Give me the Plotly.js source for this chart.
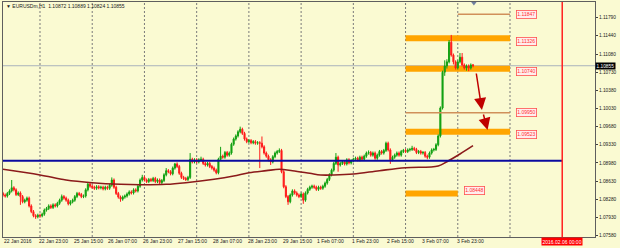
<!DOCTYPE html>
<html><head><meta charset="utf-8">
<script src="https://cdn.plot.ly/plotly-3.0.1.min.js"></script>
<style>html,body{margin:0;padding:0;background:#FAFAD2;}#chart{width:620px;height:248px;}</style>
</head><body><div id="chart"></div>
<script>
const openP = [
1.0839,1.0836,1.0834,1.0839,1.0844,1.0850,1.0846,1.0837,1.0840,1.0833,
1.0823,1.0826,1.0830,1.0815,1.0804,1.0796,1.0794,1.0797,1.0796,1.0799,
1.0807,1.0810,1.0815,1.0812,1.0817,1.0815,1.0820,1.0826,1.0833,1.0830,
1.0826,1.0819,1.0823,1.0826,1.0833,1.0839,1.0837,1.0833,1.0834,1.0846,
1.0857,1.0853,1.0851,1.0849,1.0852,1.0850,1.0851,1.0848,1.0851,1.0849,
1.0855,1.0865,1.0851,1.0839,1.0832,1.0828,1.0832,1.0834,1.0838,1.0842,
1.0840,1.0846,1.0844,1.0853,1.0865,1.0870,1.0865,1.0862,1.0866,1.0864,
1.0868,1.0862,1.0865,1.0860,1.0864,1.0875,1.0883,1.0881,1.0877,1.0888,
1.0896,1.0891,1.0878,1.0870,1.0868,1.0866,1.0870,1.0905,1.0900,1.0904,
1.0900,1.0904,1.0905,1.0897,1.0894,1.0897,1.0891,1.0888,1.0884,1.0879,
1.0905,1.0911,1.0909,1.0918,1.0913,1.0917,1.0934,1.0944,1.0950,1.0958,
1.0963,1.0955,1.0944,1.0939,1.0941,1.0937,1.0939,1.0936,1.0937,1.0936,
1.0929,1.0917,1.0911,1.0904,1.0900,1.0910,1.0917,1.0920,1.0922,1.0881,
1.0852,1.0833,1.0823,1.0836,1.0844,1.0840,1.0836,1.0833,1.0838,1.0826,
1.0840,1.0847,1.0851,1.0853,1.0851,1.0847,1.0851,1.0849,1.0853,1.0859,
1.0866,1.0875,1.0884,1.0897,1.0909,1.0894,1.0897,1.0900,1.0896,1.0904,
1.0898,1.0902,1.0905,1.0907,1.0904,1.0909,1.0905,1.0911,1.0917,1.0918,
1.0913,1.0917,1.0907,1.0913,1.0920,1.0917,1.0922,1.0936,1.0923,1.0904,
1.0909,1.0913,1.0917,1.0913,1.0920,1.0922,1.0920,1.0923,1.0924,1.0926,
1.0924,1.0918,1.0920,1.0917,1.0918,1.0911,1.0909,1.0917,1.0923,1.0924,
1.0933,1.0950,1.1004,1.1073,1.1085,1.1093,1.1131,1.1106,1.1093,1.1081,
1.1093,1.1102,1.1087,1.1081,1.1085,1.1081,1.10872];
const highP = [
1.0842,1.0839,1.0842,1.0847,1.0865,1.0853,1.0849,1.0843,1.0843,1.0836,
1.0829,1.0833,1.0833,1.0818,1.0807,1.0799,1.0800,1.0800,1.0802,1.0810,
1.0813,1.0818,1.0818,1.0820,1.0820,1.0823,1.0829,1.0837,1.0836,1.0833,
1.0829,1.0826,1.0829,1.0836,1.0842,1.0842,1.0840,1.0837,1.0849,1.0860,
1.0860,1.0856,1.0854,1.0855,1.0855,1.0854,1.0854,1.0854,1.0854,1.0858,
1.0870,1.0868,1.0854,1.0842,1.0835,1.0835,1.0837,1.0841,1.0845,1.0845,
1.0849,1.0849,1.0856,1.0868,1.0875,1.0873,1.0868,1.0869,1.0869,1.0871,
1.0871,1.0868,1.0868,1.0867,1.0878,1.0888,1.0886,1.0884,1.0891,1.0898,
1.0899,1.0894,1.0881,1.0873,1.0871,1.0873,1.0917,1.0908,1.0907,1.0907,
1.0907,1.0910,1.0908,1.0900,1.0900,1.0900,1.0894,1.0891,1.0887,1.0908,
1.0929,1.0914,1.0921,1.0921,1.0920,1.0937,1.0947,1.0953,1.0961,1.0968,
1.0966,1.0958,1.0947,1.0944,1.0944,1.0942,1.0942,1.0940,1.0940,1.0949,
1.0932,1.0920,1.0914,1.0907,1.0913,1.0920,1.0923,1.0926,1.0925,1.0884,
1.0855,1.0836,1.0839,1.0847,1.0847,1.0843,1.0839,1.0841,1.0841,1.0843,
1.0850,1.0854,1.0856,1.0856,1.0854,1.0854,1.0854,1.0856,1.0862,1.0869,
1.0878,1.0887,1.0900,1.0917,1.0912,1.0900,1.0903,1.0903,1.0907,1.0907,
1.0905,1.0908,1.0910,1.0910,1.0912,1.0912,1.0914,1.0920,1.0922,1.0921,
1.0920,1.0920,1.0916,1.0923,1.0923,1.0925,1.0939,1.0939,1.0926,1.0912,
1.0916,1.0920,1.0920,1.0923,1.0925,1.0925,1.0926,1.0927,1.0931,1.0929,
1.0927,1.0923,1.0923,1.0921,1.0921,1.0914,1.0920,1.0926,1.0927,1.0936,
1.0953,1.1007,1.1076,1.1096,1.1098,1.1135,1.1145,1.1109,1.1096,1.1096,
1.1110,1.1110,1.1090,1.1088,1.1088,1.1090,1.10889];
const lowP = [
1.0833,1.0831,1.0831,1.0836,1.0841,1.0843,1.0834,1.0834,1.0817,1.0820,
1.0820,1.0823,1.0812,1.0801,1.0793,1.0790,1.0791,1.0792,1.0793,1.0796,
1.0804,1.0807,1.0809,1.0809,1.0812,1.0812,1.0817,1.0823,1.0827,1.0823,
1.0816,1.0816,1.0820,1.0823,1.0830,1.0834,1.0830,1.0830,1.0831,1.0843,
1.0850,1.0848,1.0846,1.0846,1.0847,1.0847,1.0845,1.0845,1.0846,1.0846,
1.0852,1.0848,1.0836,1.0829,1.0823,1.0825,1.0829,1.0831,1.0835,1.0837,
1.0837,1.0841,1.0841,1.0850,1.0862,1.0862,1.0859,1.0859,1.0861,1.0861,
1.0859,1.0859,1.0857,1.0857,1.0861,1.0872,1.0878,1.0874,1.0874,1.0885,
1.0888,1.0875,1.0867,1.0865,1.0863,1.0863,1.0867,1.0897,1.0897,1.0897,
1.0897,1.0901,1.0894,1.0891,1.0891,1.0888,1.0885,1.0881,1.0876,1.0876,
1.0902,1.0906,1.0906,1.0910,1.0910,1.0914,1.0931,1.0941,1.0947,1.0955,
1.0952,1.0941,1.0936,1.0936,1.0934,1.0934,1.0933,1.0933,1.0888,1.0926,
1.0914,1.0908,1.0901,1.0894,1.0897,1.0907,1.0914,1.0917,1.0878,1.0849,
1.0830,1.0817,1.0820,1.0833,1.0837,1.0833,1.0830,1.0830,1.0819,1.0823,
1.0837,1.0844,1.0848,1.0848,1.0844,1.0844,1.0846,1.0846,1.0850,1.0856,
1.0863,1.0872,1.0881,1.0894,1.0881,1.0891,1.0894,1.0893,1.0893,1.0895,
1.0895,1.0899,1.0902,1.0901,1.0901,1.0902,1.0902,1.0908,1.0914,1.0910,
1.0910,1.0904,1.0904,1.0910,1.0914,1.0914,1.0919,1.0920,1.0896,1.0901,
1.0906,1.0910,1.0910,1.0910,1.0917,1.0917,1.0917,1.0920,1.0921,1.0921,
1.0915,1.0915,1.0914,1.0914,1.0908,1.0905,1.0906,1.0914,1.0920,1.0921,
1.0930,1.0947,1.1001,1.1066,1.1080,1.1090,1.1103,1.1088,1.1078,1.1078,
1.1090,1.1084,1.1078,1.1076,1.1075,1.1078,1.10824];
const closeP = [
1.0836,1.0834,1.0839,1.0844,1.0850,1.0846,1.0837,1.0840,1.0833,1.0823,
1.0826,1.0830,1.0815,1.0804,1.0796,1.0794,1.0797,1.0796,1.0799,1.0807,
1.0810,1.0815,1.0812,1.0817,1.0815,1.0820,1.0826,1.0833,1.0830,1.0826,
1.0819,1.0823,1.0826,1.0833,1.0839,1.0837,1.0833,1.0834,1.0846,1.0857,
1.0853,1.0851,1.0849,1.0852,1.0850,1.0851,1.0848,1.0851,1.0849,1.0855,
1.0865,1.0851,1.0839,1.0832,1.0828,1.0832,1.0834,1.0838,1.0842,1.0840,
1.0846,1.0844,1.0853,1.0865,1.0870,1.0865,1.0862,1.0866,1.0864,1.0868,
1.0862,1.0865,1.0860,1.0864,1.0875,1.0883,1.0881,1.0877,1.0888,1.0896,
1.0891,1.0878,1.0870,1.0868,1.0866,1.0870,1.0905,1.0900,1.0904,1.0900,
1.0904,1.0905,1.0897,1.0894,1.0897,1.0891,1.0888,1.0884,1.0879,1.0905,
1.0911,1.0909,1.0918,1.0913,1.0917,1.0934,1.0944,1.0950,1.0958,1.0963,
1.0955,1.0944,1.0939,1.0941,1.0937,1.0939,1.0936,1.0937,1.0936,1.0929,
1.0917,1.0911,1.0904,1.0900,1.0910,1.0917,1.0920,1.0922,1.0881,1.0852,
1.0833,1.0823,1.0836,1.0844,1.0840,1.0836,1.0833,1.0838,1.0826,1.0840,
1.0847,1.0851,1.0853,1.0851,1.0847,1.0851,1.0849,1.0853,1.0859,1.0866,
1.0875,1.0884,1.0897,1.0909,1.0894,1.0897,1.0900,1.0896,1.0904,1.0898,
1.0902,1.0905,1.0907,1.0904,1.0909,1.0905,1.0911,1.0917,1.0918,1.0913,
1.0917,1.0907,1.0913,1.0920,1.0917,1.0922,1.0936,1.0923,1.0904,1.0909,
1.0913,1.0917,1.0913,1.0920,1.0922,1.0920,1.0923,1.0924,1.0926,1.0924,
1.0918,1.0920,1.0917,1.0918,1.0911,1.0909,1.0917,1.0923,1.0924,1.0933,
1.0950,1.1004,1.1073,1.1085,1.1093,1.1131,1.1106,1.1093,1.1081,1.1093,
1.1102,1.1087,1.1081,1.1085,1.1081,1.1087,1.10855];

// moving average (bar index, price)
const maBars = [0,17,29,41,54,63,75,84,97,106,113,121,127,133,141,146,152,161,173,185,200,204,210,216];
const maVals = [1.08857,1.08747,1.08650,1.08598,1.08567,1.08559,1.08567,1.08598,1.08664,1.08727,1.08791,1.08830,1.08857,1.08830,1.08779,1.08747,1.08747,1.08766,1.08830,1.08887,1.08920,1.09003,1.09152,1.09312];

const tickBars = [0,16,32,48,64,80,96,112,128,144,160,176,192,208];
const tickLabels = ["22 Jan 2016","22 Jan 23:00","25 Jan 15:00","26 Jan 07:00","26 Jan 23:00","27 Jan 15:00","28 Jan 07:00","28 Jan 23:00","29 Jan 15:00","1 Feb 07:00","1 Feb 23:00","2 Feb 15:00","3 Feb 07:00","3 Feb 23:00"];
const dayBars = [17,41,65,89,113,137,161,185,209,233];
const priceTicks = [1.07580,1.07930,1.08280,1.08630,1.08980,1.09330,1.09680,1.10030,1.10380,1.10730,1.11080,1.11440,1.11790];
const priceTickLabels = ["1.07580","1.07930","1.08280","1.08630","1.08980","1.09330","1.09680","1.10030","1.10380","1.10730","1.11080","1.11440","1.11790"];

// chart objects
const zoneLow   = [1.11326,1.10740,1.09523,1.08332];
const zoneHigh  = [1.11442,1.10856,1.09639,1.08448];
const zoneStart = [185,185,185,185];
const zoneEnd   = [233,233,233,209];
const zoneLabel = ["1.11326","1.10740","1.09523","1.08448"];
const zoneLabelPrice = [1.11326,1.10740,1.09523,1.08448];
const levelPrice = [1.11847,1.09950];
const levelStart = [209,185];
const levelEnd   = [233,233];
const levelLabel = ["1.11847","1.09950"];
const supportPrice = 1.0902;
const supportEnd = 257;
const markerBar = 257;
const markerLabel = "2016.02.06 00:00";
const arrowFromBar = [217.4,220.6];
const arrowFromPrice = [1.10734,1.09943];
const arrowToBar = [220.1,222.7];
const arrowToPrice = [1.10001,1.09615];
const symbolName = "EURUSDm,H1";

const bars = closeP.map((_, i) => i);
const last = closeP.length - 1;
const lastPrice = closeP[last];

const traces = [
  {type:'candlestick', x:bars, open:openP, high:highP, low:lowP, close:closeP,
   increasing:{line:{color:'#12A012', width:1}, fillcolor:'#12A012'},
   decreasing:{line:{color:'#FF1A1A', width:1}, fillcolor:'#FF1A1A'},
   whiskerwidth:0, hoverinfo:'skip', showlegend:false},
  {type:'scatter', mode:'lines', x:maBars, y:maVals, line:{color:'#8B1A1A', width:1.6, shape:'spline'}, hoverinfo:'skip', showlegend:false},
  {type:'scatter', mode:'markers', x:[last+0.4], y:[1.12068], marker:{symbol:'triangle-down', size:5, color:'#6F7F9F'}, cliponaxis:false, hoverinfo:'skip', showlegend:false}
];

const shapes = [];
dayBars.forEach(b => shapes.push({type:'line', xref:'x', yref:'paper', x0:b, x1:b, y0:0, y1:1, layer:'below', line:{color:'#7A7A7A', width:1, dash:'2px,2px'}}));
shapes.push({type:'line', xref:'paper', yref:'y', x0:0, x1:1, y0:lastPrice, y1:lastPrice, layer:'below', line:{color:'#A9B2BC', width:1}});
zoneLow.forEach((v,i) => shapes.push({type:'rect', xref:'x', yref:'y', x0:zoneStart[i], x1:zoneEnd[i], y0:v, y1:zoneHigh[i], fillcolor:'#FFA500', line:{width:0}, layer:'below'}));
levelPrice.forEach((v,i) => shapes.push({type:'line', xref:'x', yref:'y', x0:levelStart[i], x1:levelEnd[i], y0:v, y1:v, line:{color:'#D0905A', width:1.5}}));
shapes.push({type:'line', xref:'x', yref:'y', x0:-1, x1:supportEnd, y0:supportPrice, y1:supportPrice, line:{color:'#0A0AA0', width:2}});
shapes.push({type:'line', xref:'x', yref:'paper', x0:markerBar, x1:markerBar, y0:0, y1:1, line:{color:'#FF2020', width:1.5}});

const annotations = [];
const fontFam = 'Liberation Sans, Arial, sans-serif';
tickBars.forEach((b,i) => annotations.push({xref:'x', yref:'paper', x:b, y:0, yshift:-4, xanchor:'left', yanchor:'middle', xshift:-1, text:tickLabels[i], showarrow:false, font:{family:fontFam, size:5, color:'#202020'}}));
annotations.push({xref:'x', yref:'paper', x:markerBar, y:0, yshift:-4, xanchor:'center', yanchor:'middle', text:markerLabel, showarrow:false, bgcolor:'#FF0000', borderpad:0.5, font:{family:fontFam, size:5, color:'#FFFFFF'}});
annotations.push({xref:'paper', yref:'y', x:1, y:lastPrice, xanchor:'left', yanchor:'middle', xshift:0, text:lastPrice.toFixed(5), showarrow:false, bgcolor:'#000000', borderpad:0.5, font:{family:fontFam, size:4.8, color:'#FFFFFF'}});
annotations.push({xref:'paper', yref:'paper', x:0, y:1, xanchor:'left', yanchor:'middle', xshift:1, yshift:-4, showarrow:false,
  text:'▼ ' + symbolName + '  ' + [openP[last],highP[last],lowP[last],closeP[last]].map(v=>v.toFixed(5)).join(' '),
  font:{family:fontFam, size:5, color:'#202020'}});
zoneLabel.forEach((t,i) => annotations.push({xref:'x', yref:'y', x:zoneEnd[i], y:zoneLabelPrice[i], xanchor:'left', yanchor:'middle', xshift:6, text:t, showarrow:false, bgcolor:'#FFEDED', bordercolor:'#FF5050', borderwidth:0.8, borderpad:0.5, font:{family:fontFam, size:5, color:'#FF3030'}}));
levelLabel.forEach((t,i) => annotations.push({xref:'x', yref:'y', x:levelEnd[i], y:levelPrice[i], xanchor:'left', yanchor:'middle', xshift:6, text:t, showarrow:false, bgcolor:'#FFEDED', bordercolor:'#FF5050', borderwidth:0.8, borderpad:0.5, font:{family:fontFam, size:5, color:'#FF3030'}}));
arrowFromBar.forEach((b,i) => annotations.push({xref:'x', yref:'y', axref:'x', ayref:'y', x:arrowToBar[i], y:arrowToPrice[i], ax:b, ay:arrowFromPrice[i], text:'', showarrow:true, arrowhead:2, arrowsize:1.6, arrowwidth:1.5, arrowcolor:'#C00000', standoff:0, startstandoff:0}));

const layout = {
  width:620, height:248,
  margin:{l:3, r:25, t:2, b:11, pad:0},
  paper_bgcolor:'#FAFAD2', plot_bgcolor:'#FAFAD2',
  showlegend:false,
  xaxis:{range:[0,272.06], showgrid:false, zeroline:false, showticklabels:false, ticks:'', showline:true, mirror:true, linecolor:'#5E5E5E', linewidth:1, rangeslider:{visible:false}, fixedrange:true},
  yaxis:{range:[1.07550,1.12085], side:'right', showgrid:false, zeroline:false, tickmode:'array', tickvals:priceTicks, ticktext:priceTickLabels, ticks:'outside', ticklen:2, tickcolor:'#404040', tickfont:{family:fontFam, size:4.8, color:'#202020'}, showline:true, mirror:true, linecolor:'#5E5E5E', linewidth:1, fixedrange:true},
  shapes:shapes, annotations:annotations,
  font:{family:fontFam}
};
Plotly.newPlot('chart', traces, layout, {staticPlot:true, displayModeBar:false});
</script>
</body></html>
